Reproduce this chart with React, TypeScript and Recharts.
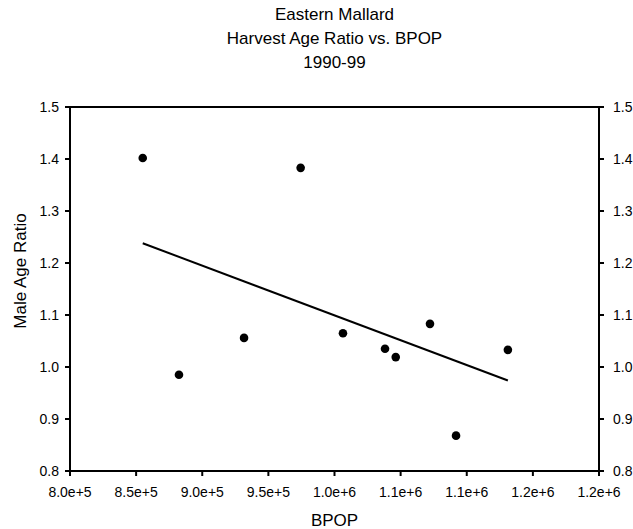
import React from 'react';
import { ScatterChart, Scatter, XAxis, YAxis, ReferenceLine } from 'recharts';

const bpop = [855000, 974400, 882400, 931600, 1006400, 1038200, 1046300, 1072200, 1091900, 1131100];
const ageRatio = [1.402, 1.383, 0.985, 1.056, 1.065, 1.035, 1.019, 1.083, 0.868, 1.033];

const fitStart = { x: 855000, y: 1.238 };
const fitEnd = { x: 1131100, y: 0.974 };

const xTicks = [800000, 850000, 900000, 950000, 1000000, 1050000, 1100000, 1150000, 1200000];
const xTickLabels = ['8.0e+5', '8.5e+5', '9.0e+5', '9.5e+5', '1.0e+6', '1.1e+6', '1.1e+6', '1.2e+6', '1.2e+6'];
const yTicks = [0.8, 0.9, 1.0, 1.1, 1.2, 1.3, 1.4, 1.5];
const yTickLabels = ['0.8', '0.9', '1.0', '1.1', '1.2', '1.3', '1.4', '1.5'];

const titleLines = ['Eastern Mallard', 'Harvest Age Ratio vs. BPOP', '1990-99'];

const data = bpop.map((x, i) => ({ x, y: ageRatio[i] }));

const FONT = '"Liberation Sans", Arial, sans-serif';

const Dot = (p: any) => <circle cx={p.cx} cy={p.cy} r={4.3} fill="#000" />;

export default function App() {
  const xFmt = (v: number) => xTickLabels[xTicks.indexOf(v)] ?? '';
  const yFmt = (v: number) => {
    const i = yTicks.findIndex((t) => Math.abs(t - v) < 1e-9);
    return i >= 0 ? yTickLabels[i] : '';
  };
  const tickStyle = { fontSize: 14, fill: '#000', fontFamily: FONT };
  return (
    <div style={{ position: 'absolute', left: 0, top: 0, width: 633, height: 529, background: '#fff' }}>
      <div
        style={{
          position: 'absolute',
          left: 70,
          width: 529,
          top: 3,
          textAlign: 'center',
          fontFamily: FONT,
          fontSize: 17,
          lineHeight: '24px',
          color: '#000',
        }}
      >
        {titleLines.map((t) => (
          <div key={t}>{t}</div>
        ))}
      </div>
      <ScatterChart width={633} height={529} margin={{ top: 107, right: 0, bottom: 0, left: 0 }}>
        <XAxis
          type="number"
          dataKey="x"
          domain={[800000, 1200000]}
          ticks={xTicks}
          tickFormatter={xFmt}
          interval={0}
          height={58}
          axisLine={{ stroke: '#000', strokeWidth: 2 }}
          tickLine={{ stroke: '#000', strokeWidth: 2 }}
          tickSize={5}
          tickMargin={11}
          tick={tickStyle}
          allowDataOverflow
          label={{ value: 'BPOP', position: 'insideBottom', offset: 3, fontSize: 17, fill: '#000', fontFamily: FONT }}
        />
        <YAxis
          yAxisId="left"
          type="number"
          dataKey="y"
          domain={[0.8, 1.5]}
          ticks={yTicks}
          tickFormatter={yFmt}
          interval={0}
          width={70}
          axisLine={{ stroke: '#000', strokeWidth: 2 }}
          tickLine={{ stroke: '#000', strokeWidth: 2 }}
          tickSize={5}
          tickMargin={6}
          tick={tickStyle}
          allowDataOverflow
          label={{ value: 'Male Age Ratio', angle: -90, position: 'center', dx: -15, dy: -18, fontSize: 17, fill: '#000', fontFamily: FONT }}
        />
        <YAxis
          yAxisId="right"
          orientation="right"
          type="number"
          dataKey="y"
          domain={[0.8, 1.5]}
          ticks={yTicks}
          tickFormatter={yFmt}
          interval={0}
          width={34}
          axisLine={{ stroke: '#000', strokeWidth: 2 }}
          tickLine={{ stroke: '#000', strokeWidth: 2 }}
          tickSize={5}
          tickMargin={9}
          tick={{ ...tickStyle, textAnchor: 'start' }}
          allowDataOverflow
        />
        <ReferenceLine yAxisId="left" y={1.5} stroke="#000" strokeWidth={2} />
        <ReferenceLine
          yAxisId="left"
          segment={[fitStart, fitEnd]}
          stroke="#000"
          strokeWidth={2}
          ifOverflow="visible"
        />
        <Scatter yAxisId="left" data={data} shape={Dot} isAnimationActive={false} />
      </ScatterChart>
    </div>
  );
}
